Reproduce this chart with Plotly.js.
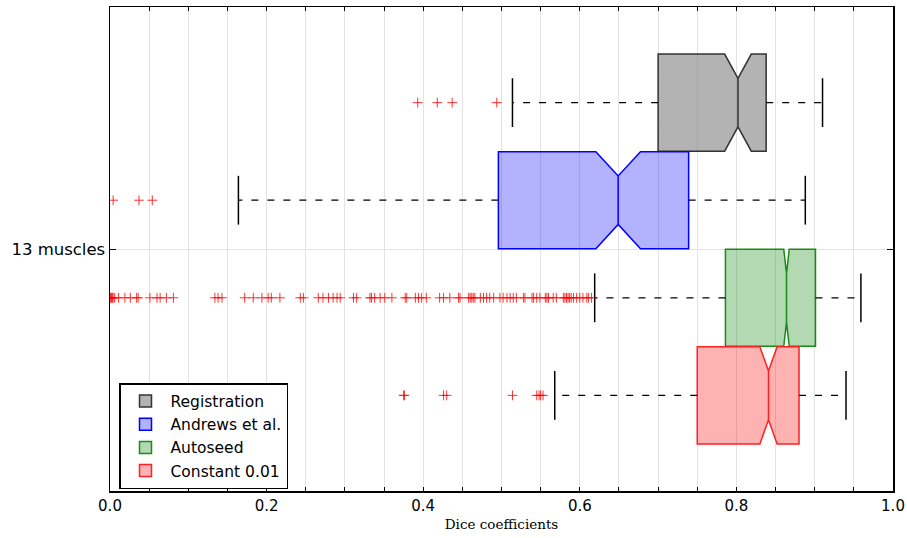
<!DOCTYPE html>
<html>
<head>
<meta charset="utf-8">
<script src="https://cdn.plot.ly/plotly-3.0.1.min.js"></script>
<style>html,body{margin:0;padding:0;background:#fff;}#chart{width:907px;height:538px;}</style>
</head>
<body>
<div id="chart"></div>
<script>
// ---- data ----
const seriesNames = ['Registration', 'Andrews et al.', 'Autoseed', 'Constant 0.01'];
const positions = [1.5, 0.5, -0.5, -1.5];
const q1Vals = [0.700, 0.496, 0.786, 0.750];
const medianVals = [0.802, 0.649, 0.864, 0.841];
const q3Vals = [0.838, 0.739, 0.901, 0.880];
const notchHalfSpan = [0.017, 0.0285, 0.0035, 0.011];
const whiskerLow = [0.514, 0.164, 0.619, 0.568];
const whiskerHigh = [0.910, 0.888, 0.959, 0.940];

const outliersRegistration = [0.393, 0.418, 0.437, 0.494];
const outliersAndrews = [0.004, 0.037, 0.054];
const outliersAutoseed = [0.000, 0.001, 0.002, 0.003, 0.004, 0.006, 0.011, 0.019, 0.026, 0.034, 0.036,
  0.051, 0.060, 0.064, 0.072, 0.081, 0.134, 0.138, 0.143, 0.172, 0.183, 0.194, 0.202, 0.206, 0.217,
  0.243, 0.247, 0.266, 0.272, 0.279, 0.285, 0.290, 0.294, 0.311, 0.315, 0.332, 0.334, 0.338, 0.345,
  0.351, 0.360, 0.377, 0.379, 0.390, 0.394, 0.398, 0.404, 0.421, 0.426, 0.434, 0.445, 0.447, 0.458,
  0.460, 0.462, 0.464, 0.466, 0.473, 0.477, 0.481, 0.485, 0.490, 0.498, 0.502, 0.507, 0.511, 0.515,
  0.519, 0.528, 0.530, 0.539, 0.541, 0.545, 0.549, 0.556, 0.558, 0.560, 0.566, 0.570, 0.579, 0.581,
  0.583, 0.585, 0.587, 0.589, 0.592, 0.596, 0.600, 0.604, 0.609, 0.611, 0.615];
const outliersConstant = [0.375, 0.376, 0.426, 0.430, 0.514, 0.545, 0.548, 0.550, 0.553];
const outlierSets = [outliersRegistration, outliersAndrews, outliersAutoseed, outliersConstant];

const yTickVals = [0];
const yTickText = ['13 muscles'];
const xTickVals = [0, 0.05, 0.1, 0.15, 0.2, 0.25, 0.3, 0.35, 0.4, 0.45, 0.5, 0.55, 0.6, 0.65, 0.7, 0.75, 0.8, 0.85, 0.9, 0.95, 1.0];
const xTickText = ['0.0', '', '', '', '0.2', '', '', '', '0.4', '', '', '', '0.6', '', '', '', '0.8', '', '', '', '1.0'];

// ---- styles ----
const fillColors = ['rgba(128,128,128,0.6)', 'rgba(0,0,255,0.3)', 'rgba(0,128,0,0.3)', 'rgba(255,0,0,0.3)'];
const edgeColors = ['#333333', '#0000ff', '#1a8a1a', '#ff2020'];

const traces = [];
for (let i = 0; i < seriesNames.length; i++) {
  const p = positions[i];
  traces.push({
    type: 'scatter', mode: 'lines', showlegend: false, hoverinfo: 'skip',
    x: [q1Vals[i], whiskerLow[i], null, q3Vals[i], whiskerHigh[i]],
    y: [p, p, null, p, p],
    line: {color: '#000', width: 1.3, dash: '7px,9px'}
  });
  traces.push({
    type: 'scatter', mode: 'lines', showlegend: false, hoverinfo: 'skip',
    x: [whiskerLow[i], whiskerLow[i], null, whiskerHigh[i], whiskerHigh[i]],
    y: [p - 0.25, p + 0.25, null, p - 0.25, p + 0.25],
    line: {color: '#000', width: 1.5}
  });
  traces.push({
    type: 'scatter', mode: 'markers', showlegend: false, hoverinfo: 'x',
    x: outlierSets[i],
    y: outlierSets[i].map(() => p),
    marker: {symbol: 'cross-thin-open', size: 7, color: 'rgba(255,0,0,0.8)', line: {color: 'rgba(255,0,0,0.8)', width: 1}}
  });
}
for (let i = 0; i < seriesNames.length; i++) {
  traces.push({
    type: 'box', orientation: 'h', name: seriesNames[i],
    y: [positions[i]],
    q1: [q1Vals[i]], median: [medianVals[i]], q3: [q3Vals[i]],
    lowerfence: [q1Vals[i]], upperfence: [q3Vals[i]],
    notched: true, notchspan: [notchHalfSpan[i]], notchwidth: 0.25,
    width: 0.995, whiskerwidth: 0,
    fillcolor: fillColors[i],
    line: {color: edgeColors[i], width: 1.5},
    boxpoints: false
  });
}

const layout = {
  width: 907, height: 538,
  margin: {l: 110, r: 14, t: 7, b: 47},
  paper_bgcolor: '#fff', plot_bgcolor: '#fff',
  boxmode: 'overlay',
  font: {family: 'DejaVu Sans', size: 15, color: '#000'},
  showlegend: true,
  legend: {
    x: 0.0115, y: 0.1136, xanchor: 'left', yanchor: 'middle',
    bgcolor: '#fff', bordercolor: '#000', borderwidth: 1.5,
    font: {family: 'DejaVu Sans', size: 15.5, color: '#000'},
    traceorder: 'normal', itemwidth: 40
  },
  xaxis: {
    range: [0, 1], tickmode: 'array', tickvals: xTickVals, ticktext: xTickText,
    ticks: 'inside', ticklen: 4, tickcolor: '#000', tickwidth: 1,
    showgrid: true, gridcolor: '#e3e3e3', gridwidth: 1, zeroline: false,
    showline: true, linecolor: '#000', linewidth: 1.5, mirror: 'ticks',
    tickfont: {family: 'DejaVu Sans', size: 15},
    title: {text: 'Dice coefficients', font: {family: 'DejaVu Serif', size: 13.5}, standoff: 6}
  },
  yaxis: {
    range: [-2.48, 2.48], tickmode: 'array', tickvals: yTickVals, ticktext: yTickText,
    ticks: 'inside', ticklen: 6, tickcolor: '#000', tickwidth: 1,
    showgrid: true, gridcolor: '#e3e3e3', zeroline: false,
    showline: true, linecolor: '#000', linewidth: 1.5, mirror: 'ticks',
    tickfont: {family: 'DejaVu Sans', size: 16.5}
  }
};

Plotly.newPlot('chart', traces, layout, {staticPlot: true, displayModeBar: false});
</script>
</body>
</html>
